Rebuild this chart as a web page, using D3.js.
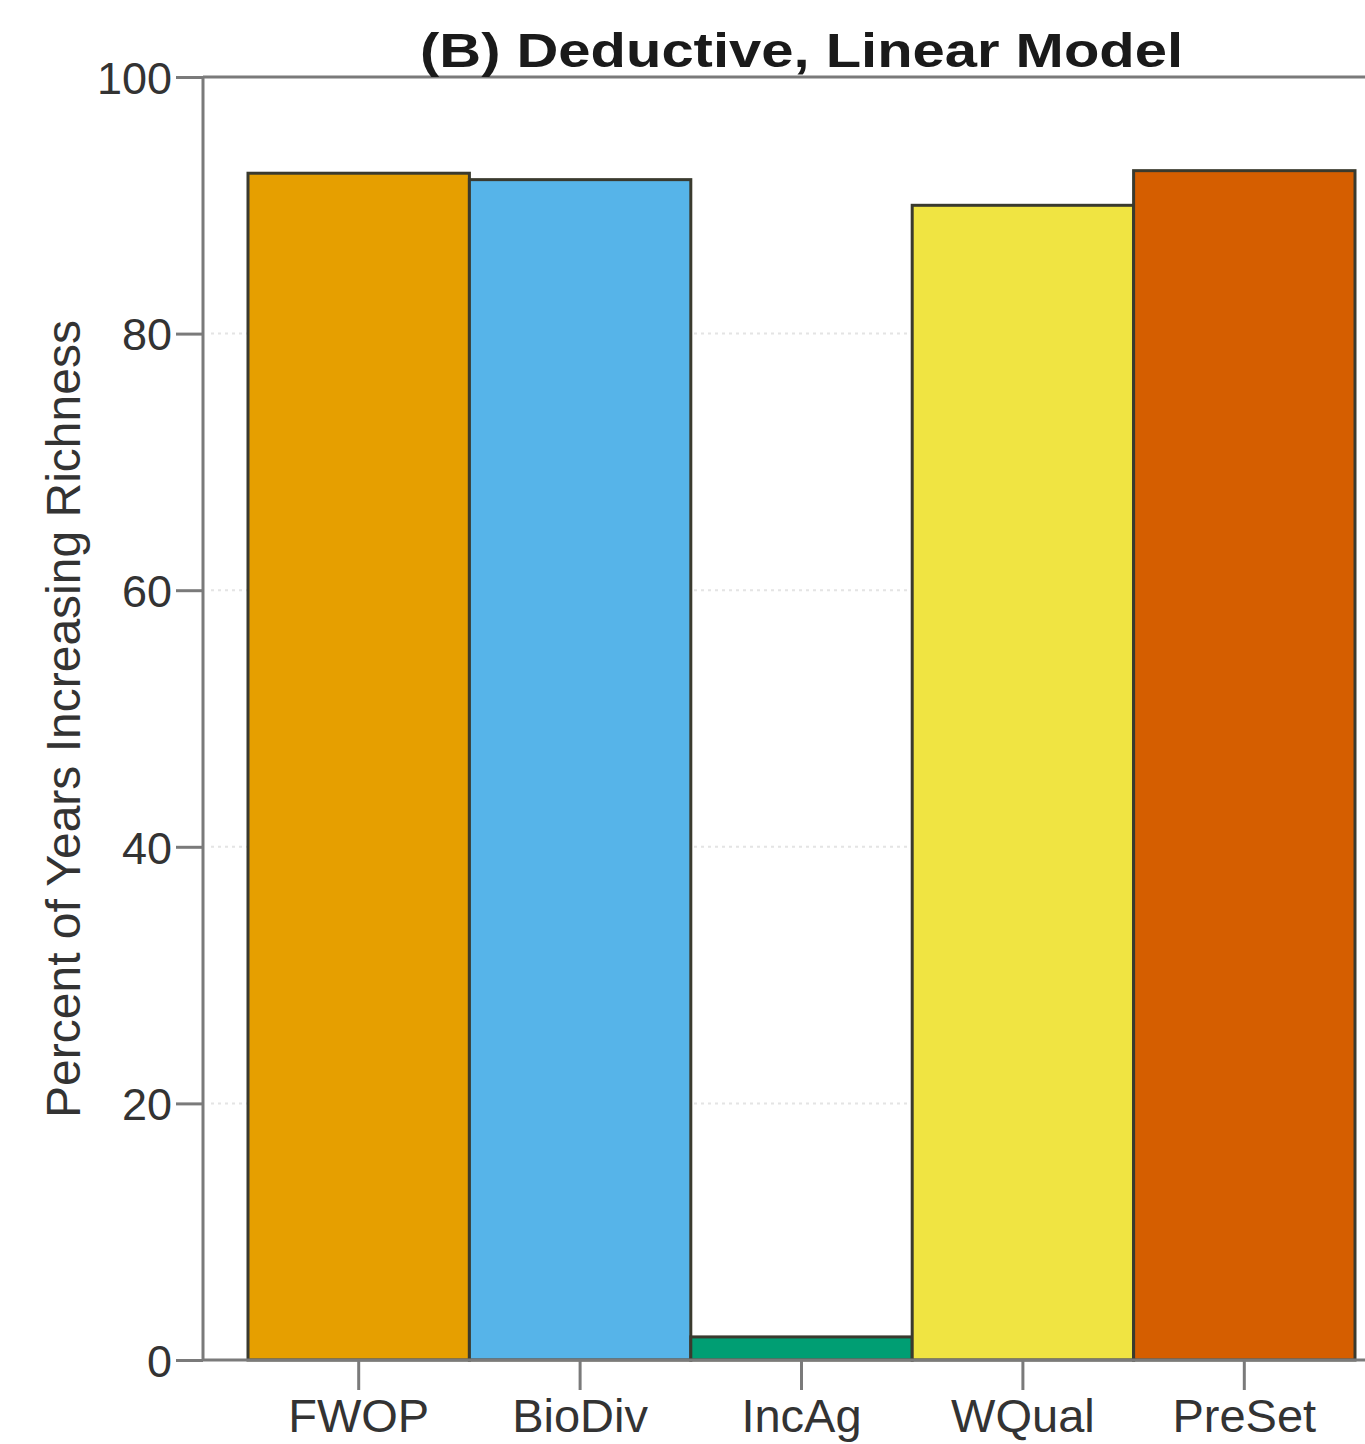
<!DOCTYPE html>
<html>
<head>
<meta charset="utf-8">
<script src="https://cdn.jsdelivr.net/npm/d3@7"></script>
<style>
  body { margin: 0; background: #fff; }
  svg { display: block; font-family: 'Liberation Sans', Arial, sans-serif; }
</style>
</head>
<body>
<svg id="chart" width="1365" height="1444"></svg>
<script>
const categories = ['FWOP', 'BioDiv', 'IncAg', 'WQual', 'PreSet'];
const values = [92.5, 92.0, 1.8, 90.0, 92.7];
const colors = ['#e69f00', '#56b4e9', '#009e73', '#f0e442', '#d55e00'];
const yTicks = [0, 20, 40, 60, 80, 100];
const gridTicks = [20, 40, 60, 80];

const svg = d3.select('#chart');
const axisX = 203;
const y = d3.scaleLinear().domain([0, 100]).range([1360, 77]);
const x = d3.scaleBand().domain(categories).range([248, 1355]).padding(0);

// faint dotted grid
svg.append('g')
  .selectAll('line')
  .data(gridTicks)
  .enter()
  .append('line')
  .attr('x1', axisX + 8)
  .attr('x2', 1355)
  .attr('y1', (d) => y(d))
  .attr('y2', (d) => y(d))
  .style('stroke', '#e4e4e4')
  .style('stroke-width', 2)
  .style('stroke-dasharray', '3,4');

// bars
svg.append('g')
  .selectAll('rect')
  .data(categories)
  .enter()
  .append('rect')
  .attr('x', (d) => x(d))
  .attr('y', (d, i) => y(values[i]))
  .attr('width', x.bandwidth())
  .attr('height', (d, i) => y(0) - y(values[i]))
  .style('fill', (d, i) => colors[i])
  .style('stroke', '#3a3a2e')
  .style('stroke-width', 3);

// frame lines: left axis, top and bottom running off the right edge
const frame = svg.append('g').style('stroke', '#7a7a7a').style('stroke-width', 3);
frame.append('line').attr('x1', axisX).attr('x2', axisX).attr('y1', y(100)).attr('y2', y(0));
frame.append('line').attr('x1', axisX).attr('x2', 1365).attr('y1', y(100)).attr('y2', y(100));
frame.append('line').attr('x1', axisX).attr('x2', 1365).attr('y1', y(0)).attr('y2', y(0));

// y axis
const yAxis = svg.append('g')
  .attr('transform', `translate(${axisX},0)`)
  .call(d3.axisLeft(y).tickValues(yTicks).tickSize(27).tickPadding(4));
yAxis.select('.domain').remove();
yAxis.selectAll('.tick line').style('stroke', '#7a7a7a').style('stroke-width', 3);
yAxis.selectAll('.tick text')
  .style('font-size', '45px')
  .style('fill', '#333')
  .attr('dy', '0.36em');

// x axis
const xAxis = svg.append('g')
  .attr('transform', `translate(0,${y(0)})`)
  .call(d3.axisBottom(x).tickSize(30));
xAxis.select('.domain').remove();
xAxis.selectAll('.tick line').style('stroke', '#7a7a7a').style('stroke-width', 3);
xAxis.selectAll('.tick text')
  .attr('y', 72)
  .attr('dy', null)
  .style('font-size', '47px')
  .style('fill', '#333');

// y label
svg.append('text')
  .attr('transform', 'translate(80,719) rotate(-90)')
  .attr('text-anchor', 'middle')
  .style('font-size', '48px')
  .style('fill', '#333')
  .text('Percent of Years Increasing Richness');

// title
svg.append('text')
  .attr('x', 420)
  .attr('y', 67)
  .attr('textLength', 763)
  .attr('lengthAdjust', 'spacingAndGlyphs')
  .style('font-size', '48px')
  .style('font-weight', 'bold')
  .style('fill', '#1a1a1a')
  .text('(B) Deductive, Linear Model');
</script>
</body>
</html>
